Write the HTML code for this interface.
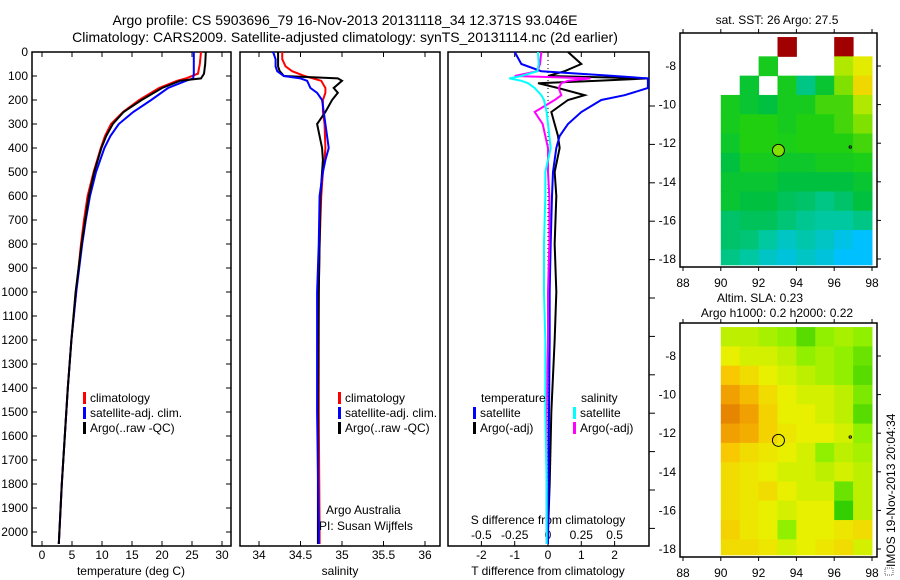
<!DOCTYPE html>
<html><head><meta charset="utf-8"><style>
body{margin:0;background:#fff;}
svg{display:block;font-family:"Liberation Sans",sans-serif;}
</style></head><body>
<svg id="c" width="900" height="580" viewBox="0 0 900 580"></svg>
<script>
// ---------- data ----------
const tDepth=[0,50,90,110,120,150,200,250,300,350,400,500,600,700,800,900,1000,1200,1400,1600,1800,2000,2050];
const tClim=[26.5,26.3,26.0,24,22.5,19.5,16.2,13.5,11.5,10.5,9.8,8.6,7.6,7.0,6.5,6.1,5.7,4.9,4.3,3.8,3.3,2.9,2.8];
const tSat=[25.3,25.3,25.3,25.2,24,21,18.2,15.2,12.8,11.4,10.4,9.0,8.0,7.3,6.7,6.2,5.7,4.9,4.3,3.8,3.3,2.9,2.8];
const tArgo=[27.3,27.2,27.0,26.5,23,20,16.6,13.6,11.8,10.7,9.9,8.7,7.8,7.2,6.6,6.1,5.6,4.9,4.3,3.8,3.3,2.9,2.8];
const sDepth=[0,30,60,80,100,110,120,150,170,200,250,300,400,450,500,600,800,1000,1500,2000,2050];
const sClim=[34.28,34.28,34.32,34.4,34.55,34.65,34.75,34.8,34.8,34.77,34.77,34.79,34.8,34.79,34.77,34.75,34.73,34.72,34.72,34.73,34.73];
const sSat=[34.17,34.2,34.2,34.22,34.3,34.5,34.58,34.62,34.7,34.76,34.78,34.8,34.84,34.8,34.77,34.73,34.72,34.7,34.7,34.72,34.72];
const sArgo=[34.23,34.23,34.23,34.25,34.3,34.95,35.0,34.9,34.95,34.88,34.8,34.7,34.76,34.77,34.76,34.74,34.73,34.72,34.71,34.71,34.71];
const dDepth=[0,50,80,100,110,120,130,150,180,200,250,300,350,400,500,600,800,1000,1200,1500,1800,2000,2050];
const dTSat=[-1.0,-0.8,-0.2,2.0,3.0,3.0,3.0,3.0,2.3,1.6,1.0,0.6,0.35,0.25,0.15,0.12,0.08,0.05,0.05,0.03,0.02,0.0,0.0];
const dTArgo=[0.6,1.0,0.5,0.0,3.0,1.5,-0.3,0.3,1.1,0.6,0.1,0.2,0.3,0.35,0.2,0.25,0.2,0.25,0.2,0.1,0.05,0.0,0.0];
const dSSat=[-0.075,-0.07,-0.08,-0.2,-0.29,-0.2,-0.15,-0.1,-0.05,-0.03,-0.01,0.0,0.01,0.02,-0.02,-0.02,-0.03,-0.03,-0.02,-0.02,-0.01,-0.01,-0.01];
const dSArgo=[-0.05,-0.06,-0.08,-0.25,0.32,0.15,0.1,0.08,0.1,0.05,-0.1,-0.04,-0.02,0.0,0.0,0.01,0.01,0.0,0.0,-0.01,-0.01,-0.01,-0.01];
const depthTicks=[0,100,200,300,400,500,600,700,800,900,1000,1100,1200,1300,1400,1500,1600,1700,1800,1900,2000];
const tTicks=[0,5,10,15,20,25,30];
const sTicks=[34,34.5,35,35.5,36];
const dTTicks=[-2,-1,0,1,2];
const dSTickVals=[-0.5,-0.25,0,0.25,0.5];
const dSTickLabels=["-0.5","-0.25","0","0.25","0.5"];
const lonTicks=[88,90,92,94,96,98];
const latTicks=[-8,-10,-12,-14,-16,-18];
const lonStart=90, latTop=-6.5;
const sstGrid=[
[null,null,null,1.0,null,null,1.0,null],
[null,null,0.45,null,null,null,0.6,0.66],
[null,0.42,null,0.45,0.35,0.42,0.55,0.7],
[0.45,0.42,0.4,0.45,0.45,0.5,0.5,0.6],
[0.45,0.47,0.47,0.45,0.47,0.47,0.5,0.55],
[0.43,0.47,0.47,0.46,0.47,0.47,0.47,0.5],
[0.4,0.45,0.45,0.43,0.43,0.45,0.45,0.46],
[0.42,0.42,0.42,0.4,0.4,0.4,0.4,0.42],
[0.42,0.4,0.4,0.38,0.37,0.35,0.37,0.4],
[0.37,0.38,0.38,0.36,0.34,0.33,0.33,0.35],
[0.37,0.36,0.33,0.3,0.32,0.3,0.27,0.25],
[0.35,0.33,0.3,0.28,0.3,0.28,0.25,0.25]];
const slaGrid=[
[0.4,0.4,0.35,0.3,0.15,0.3,0.35,0.3],
[0.5,0.45,0.45,0.4,0.3,0.35,0.3,0.2],
[0.7,0.6,0.5,0.45,0.4,0.35,0.3,0.15],
[0.85,0.75,0.6,0.5,0.45,0.45,0.4,0.25],
[0.95,0.85,0.65,0.5,0.5,0.45,0.4,0.15],
[0.85,0.8,0.65,0.55,0.5,0.5,0.45,0.3],
[0.7,0.6,0.55,0.5,0.45,0.3,0.4,0.35],
[0.6,0.55,0.5,0.45,0.45,0.4,0.45,0.4],
[0.6,0.55,0.6,0.5,0.45,0.45,0.2,0.4],
[0.6,0.55,0.5,0.45,0.5,0.5,0.05,0.4],
[0.65,0.55,0.5,0.3,0.5,0.5,0.55,0.6],
[0.6,0.6,0.55,0.45,0.5,0.55,0.6,0.45]];
const argoLon=93.05, argoLat=-12.37;

// ---------- helpers ----------
const svg=document.getElementById('c');
const NS='http://www.w3.org/2000/svg';
function mk(tag,attrs,parent){const e=document.createElementNS(NS,tag);for(const k in attrs)e.setAttribute(k,attrs[k]);(parent||svg).appendChild(e);return e;}
function txt(x,y,s,anchor,size,parent){const e=mk('text',{x:x,y:y,'text-anchor':anchor||'start','font-size':size||12,fill:'#000'},parent);e.textContent=s;return e;}
const yD=d=>52+d*0.24;
const xT=v=>42+v*6;
const xS=v=>259+(v-34)*83;
const xDT=v=>548+v*33.3;
const xDS=v=>548+v*4*33.3;
const xLon=v=>683+(v-88)*18.9;
const yLat=v=>66+(-8-v)*19.3;
const yLat2=v=>356+(-8-v)*19.3;

function line(xs,ds,xf,color,name,w){
  const p=mk('polyline',{points:xs.map((v,i)=>xf(v)+','+yD(ds[i])).join(' '),fill:'none',stroke:color,'stroke-width':w||2});
  
  
}

let t=txt(345,25,'Argo profile: CS 5903696_79 16-Nov-2013 20131118_34 12.371S 93.046E','middle',14);

t=txt(345,42,'Climatology: CARS2009. Satellite-adjusted climatology: synTS_20131114.nc (2d earlier)','middle',14);


const panels=[[32,231,'temperature-panel'],[240,440,'salinity-panel'],[448,649,'difference-panel']];
panels.forEach(p=>{const r=mk('rect',{x:p[0],y:52,width:p[1]-p[0],height:494,fill:'none',stroke:'#000','stroke-width':1.5});
});

depthTicks.forEach(d=>{const y=yD(d);
  const l=txt(28,y+4,String(d),'end',12);
  mk('line',{x1:32,y1:y,x2:37,y2:y,stroke:'#000'});mk('line',{x1:226,y1:y,x2:231,y2:y,stroke:'#000'});});
for(let y=106;y<=550;y+=38.4){mk('line',{x1:649,y1:y,x2:655,y2:y,stroke:'#000'});}

function xticks(vals,labels,f,yl){vals.forEach((v,i)=>{const x=f(v);
  mk('line',{x1:x,y1:546,x2:x,y2:541,stroke:'#000'});mk('line',{x1:x,y1:52,x2:x,y2:57,stroke:'#000'});
  const l=txt(x,yl,labels[i],'middle',12);});}
xticks(tTicks,tTicks.map(String),xT,559);
xticks(sTicks,sTicks.map(String),xS,559);
xticks(dTTicks,dTTicks.map(String),xDT,559);
dSTickVals.forEach((v,i)=>{const l=txt(xDS(v),539,dSTickLabels[i],'middle',12);});

t=txt(131,575,'temperature (deg C)','middle',12);
t=txt(340,575,'salinity','middle',12);
t=txt(548,575,'T difference from climatology','middle',12);
t=txt(548,524,'S difference from climatology','middle',12);

mk('line',{x1:xDT(0),y1:52,x2:xDT(0),y2:546,stroke:'#000','stroke-dasharray':'1,3'});

line(tClim,tDepth,xT,'#f00','temp-climatology-line');
line(tSat,tDepth,xT,'#00f','temp-satellite-line');
line(tArgo,tDepth,xT,'#000','temp-argo-line');
line(sClim,sDepth,xS,'#f00','sal-climatology-line');
line(sArgo,sDepth,xS,'#000','sal-argo-line');
line(sSat,sDepth,xS,'#00f','sal-satellite-line');
line(dTArgo,dDepth,xDT,'#000','tdiff-argo-line');
line(dTSat,dDepth,xDT,'#00f','tdiff-satellite-line');
line(dSArgo,dDepth,xDS,'#f0f','sdiff-argo-line');
line(dSSat,dDepth,xDS,'#0ff','sdiff-satellite-line');

function leg(x,y,color,label,name){mk('rect',{x:x,y:y-10,width:3,height:12,fill:color});
  const l=txt(x+7,y,label,'start',12);}
leg(83,402,'#f00','climatology','legend-climatology');
leg(83,417,'#00f','satellite-adj. clim.','legend-satellite');
leg(83,432,'#000','Argo(..raw -QC)','legend-argo');
leg(338,402,'#f00','climatology','legend-climatology-sal');
leg(338,417,'#00f','satellite-adj. clim.','legend-satellite-sal');
leg(338,432,'#000','Argo(..raw -QC)','legend-argo-sal');
t=txt(481,402,'temperature','start',12);
t=txt(581,402,'salinity','start',12);
leg(473,417,'#00f','satellite','legend-t-satellite');
leg(473,432,'#000','Argo(-adj)','legend-t-argo');
leg(573,417,'#0ff','satellite','legend-s-satellite');
leg(573,432,'#f0f','Argo(-adj)','legend-s-argo');
t=txt(326,514,'Argo Australia','start',12);
t=txt(319,530,'PI: Susan Wijffels','start',12);

function lerpColor(stops,v){if(v<=stops[0][0])return 'rgb('+stops[0][1].join(',')+')';
  for(let i=1;i<stops.length;i++){if(v<=stops[i][0]){const a=stops[i-1],b=stops[i];const f=(v-a[0])/(b[0]-a[0]);
    const ca=a[1],cb=b[1];return 'rgb('+ca.map((c,k)=>Math.round(c+(cb[k]-c)*f)).join(',')+')';}}
  return 'rgb('+stops[stops.length-1][1].join(',')+')';}
const sstStops=[[0,[10,20,150]],[0.15,[0,96,255]],[0.25,[0,192,255]],[0.33,[0,200,160]],[0.4,[0,192,64]],[0.47,[32,208,16]],[0.55,[128,224,0]],[0.65,[224,240,0]],[0.75,[255,192,0]],[0.85,[255,96,0]],[1,[160,0,0]]];
const slaStops=[[0,[32,200,0]],[0.3,[144,240,0]],[0.5,[232,240,0]],[0.7,[248,200,0]],[0.85,[240,160,0]],[1,[224,120,0]]];
function drawMap(grid,stops,yf,top,name){
  const g=mk('g',{});
  grid.forEach((row,r)=>row.forEach((v,c)=>{if(v===null)return;
    const la0=latTop-r, la1=Math.max(latTop-r-1,-18.3);
    const x0=xLon(lonStart+c), x1=Math.min(xLon(lonStart+c+1),877);
    const y0=Math.max(yf(la0),top), y1=yf(la1);
    const cell=mk('rect',{x:x0,y:y0,width:x1-x0+0.5,height:y1-y0+0.5,fill:lerpColor(stops,v)},g);
    
    
  }));
  mk('rect',{x:680,y:top,width:197,height:234,fill:'none',stroke:'#000','stroke-width':1.5});
  lonTicks.forEach(lo=>{const x=xLon(lo);mk('line',{x1:x,y1:top,x2:x,y2:top-4,stroke:'#000'});mk('line',{x1:x,y1:top+234,x2:x,y2:top+238,stroke:'#000'});
    const l=txt(x,top+254,String(lo),'middle',12);});
  latTicks.forEach(la=>{const y=yf(la);mk('line',{x1:877,y1:y,x2:881,y2:y,stroke:'#000'});
    const l=txt(676,y+4,String(la),'end',12);});
  mk('circle',{cx:xLon(96.85),cy:yf(-12.2),r:1.2,fill:'none',stroke:'#000'});
}
drawMap(sstGrid,sstStops,yLat,33,'sst-map');
drawMap(slaGrid,slaStops,yLat2,323,'sla-map');
let c1=mk('circle',{cx:xLon(argoLon),cy:yLat(argoLat),r:6,fill:'#80e000',stroke:'#000'});

let c2=mk('circle',{cx:xLon(argoLon),cy:yLat2(argoLat),r:6,fill:'none',stroke:'#000'});

t=txt(777,24,'sat. SST: 26 Argo: 27.5','middle',12);
t=txt(760,302,'Altim. SLA: 0.23','middle',12);
t=txt(777,317,'Argo h1000: 0.2 h2000: 0.22','middle',12);
t=txt(0,0,'IMOS 19-Nov-2013 20:04:34','start',12);
t.setAttribute('transform','translate(895,567) rotate(-90)');

mk('rect',{x:885,y:568,width:8,height:7,fill:'none',stroke:'#555','stroke-width':1,'stroke-dasharray':'1,1'});
</script>
</body></html>
